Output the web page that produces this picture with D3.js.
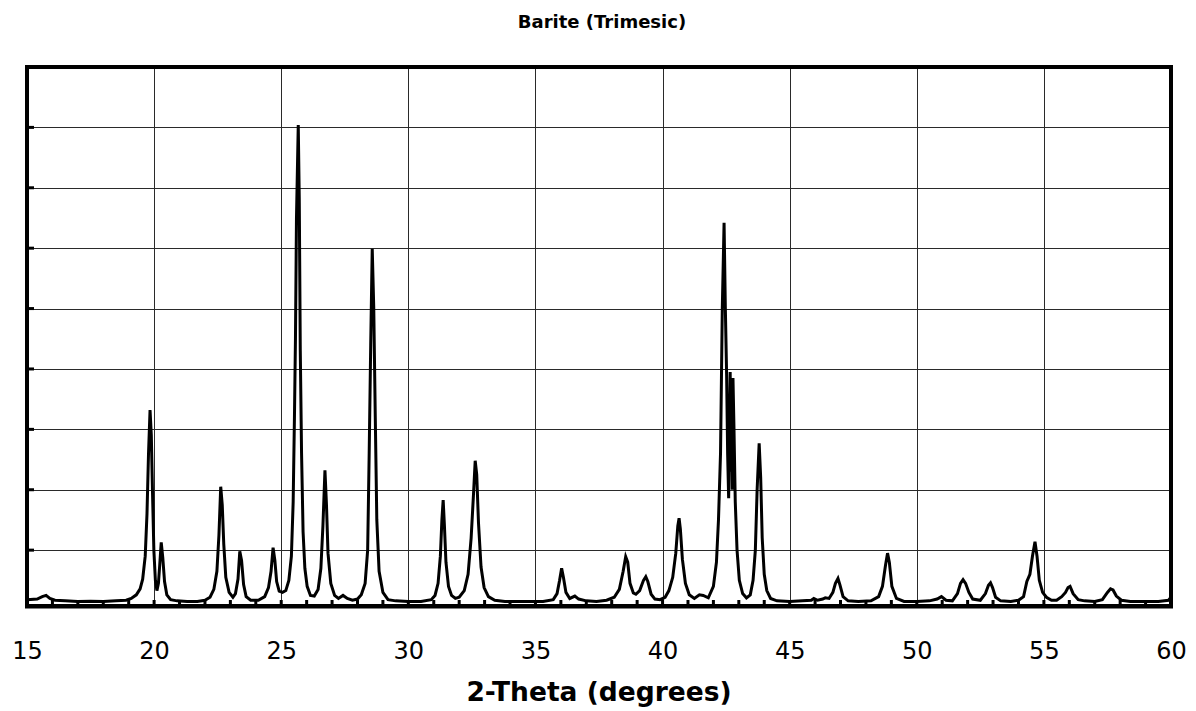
<!DOCTYPE html>
<html>
<head>
<meta charset="utf-8">
<script src="https://cdn.jsdelivr.net/npm/d3@7"></script>
<style>
  html, body { margin: 0; padding: 0; background: #fff; }
  svg { display: block; }
</style>
</head>
<body>
<svg id="chart" width="1196" height="711"></svg>
<script>
// ---- Data (2-theta in degrees, intensity in counts) ----
const scan15to30 = [
  [15.0,180],[15.4,190],[15.6,230],[15.75,250],[15.9,200],[16.1,170],[16.5,160],[17.0,150],[17.5,155],
  [18.0,150],[18.5,160],[18.9,170],[19.1,200],[19.3,260],[19.45,360],[19.55,520],[19.65,900],[19.72,1600],
  [19.78,2600],[19.84,3320],[19.89,2900],[19.94,1900],[19.99,1000],[20.05,500],[20.11,330],[20.17,450],
  [20.22,750],[20.28,1130],[20.34,880],[20.41,480],[20.5,260],[20.65,180],[20.9,160],[21.3,150],[21.7,150],
  [22.0,170],[22.2,220],[22.35,350],[22.47,650],[22.55,1250],[22.62,2050],[22.68,1750],[22.74,1100],
  [22.82,550],[22.95,300],[23.1,220],[23.2,280],[23.3,520],[23.37,980],[23.44,830],[23.52,430],[23.62,230],
  [23.8,170],[24.1,170],[24.35,230],[24.5,380],[24.6,650],[24.68,1040],[24.75,830],[24.82,480],[24.92,320],
  [25.05,300],[25.18,330],[25.3,500],[25.4,900],[25.47,1800],[25.52,3200],[25.56,4500],[25.6,6500],
  [25.67,8040],[25.71,6800],[25.75,4300],[25.8,2600],[25.86,1300],[25.93,700],[26.02,400],[26.15,250],
  [26.3,240],[26.45,350],[26.56,700],[26.64,1400],[26.72,2320],[26.78,1750],[26.84,950],[26.95,450],
  [27.1,250],[27.25,200],[27.43,250],[27.6,200],[27.8,170],[28.0,190],[28.15,260],[28.3,450],[28.4,1000],
  [28.46,2600],[28.52,4400],[28.58,5990],[28.64,5000],[28.7,3200],[28.76,1500],[28.85,650],[29.0,300],
  [29.2,180],[29.5,160],[30.0,150]
];
const scan30to45 = [
  [30.5,150],[30.9,180],[31.05,250],[31.17,450],[31.26,900],[31.32,1500],[31.37,1830],[31.42,1400],
  [31.48,800],[31.58,400],[31.7,250],[31.85,200],[32.0,220],[32.2,330],[32.35,600],[32.47,1200],
  [32.56,1900],[32.63,2480],[32.69,2250],[32.76,1450],[32.86,720],[32.98,380],[33.15,230],[33.4,170],
  [33.8,150],[34.3,150],[34.8,150],[35.3,150],[35.7,180],[35.85,280],[35.95,500],[36.03,700],[36.1,550],
  [36.2,300],[36.35,200],[36.55,240],[36.7,190],[37.0,160],[37.4,150],[37.8,170],[38.1,220],[38.3,350],
  [38.45,650],[38.55,890],[38.63,800],[38.72,450],[38.85,290],[38.95,270],[39.1,330],[39.25,500],
  [39.34,560],[39.42,480],[39.55,270],[39.7,190],[39.9,180],[40.1,220],[40.25,330],[40.4,550],[40.52,950],
  [40.6,1400],[40.65,1530],[40.7,1350],[40.78,850],[40.9,450],[41.05,260],[41.25,200],[41.45,260],
  [41.6,250],[41.8,210],[42.0,400],[42.12,800],[42.2,1500],[42.28,2600],[42.35,5000],[42.42,6420],
  [42.47,5000],[42.52,3900],[42.56,2600],[42.6,1860],[42.63,3000],[42.66,3950],[42.69,2300],[42.71,3700],
  [42.74,2000],[42.77,3850],[42.81,3000],[42.86,1800],[42.93,1000],[43.02,500],[43.15,280],[43.3,210],
  [43.45,260],[43.56,500],[43.65,1000],[43.72,2000],[43.8,2770],[43.86,2200],[43.92,1200],[44.0,600],
  [44.1,330],[44.25,200],[44.5,160],[45.0,150]
];
const scan45to60 = [
  [45.5,160],[45.85,170],[45.95,200],[46.1,170],[46.3,190],[46.4,210],[46.55,200],[46.7,300],[46.8,450],
  [46.9,530],[46.98,420],[47.1,230],[47.3,160],[47.7,150],[48.2,160],[48.5,230],[48.65,400],[48.77,750],
  [48.85,950],[48.92,800],[49.02,400],[49.2,200],[49.5,150],[50.0,150],[50.5,160],[50.8,190],[50.97,230],
  [51.15,170],[51.4,160],[51.6,280],[51.72,450],[51.82,510],[51.92,450],[52.05,300],[52.2,190],[52.5,170],
  [52.7,280],[52.82,420],[52.9,460],[52.98,380],[53.1,220],[53.3,160],[53.7,150],[54.0,170],[54.2,230],
  [54.33,480],[54.45,600],[54.55,900],[54.65,1140],[54.73,900],[54.82,500],[54.95,300],[55.1,220],
  [55.3,170],[55.5,170],[55.7,230],[55.85,300],[55.95,380],[56.03,400],[56.15,280],[56.35,180],[56.6,160],
  [57.0,150],[57.3,180],[57.5,300],[57.62,360],[57.72,340],[57.85,240],[58.05,170],[58.4,150],[59.0,150],
  [59.5,150],[59.9,170],[60.0,220]
];
const xTickValues = [15, 20, 25, 30, 35, 40, 45, 50, 55, 60];
const yGridValues = [1000, 2000, 3000, 4000, 5000, 6000, 7000, 8000];
const chartTitle = "Barite (Trimesic)";
const xAxisTitle = "2-Theta (degrees)";

// ---- Layout ----
const svg = d3.select("#chart");
const plotLeft = 27, plotRight = 1171, plotTop = 67, plotBottom = 606;

const pattern = scan15to30.concat(scan30to45, scan45to60);

const x = d3.scaleLinear().domain([15, 60]).range([plotLeft, plotRight]);
const y = d3.scaleLinear().domain([75, 9000]).range([plotBottom, plotTop]);

svg.append("rect").attr("width", 1196).attr("height", 711).attr("fill", "#fff");

// Gridlines
const grid = svg.append("g");
grid.selectAll("line.v").data(xTickValues.slice(1, -1)).join("line")
  .attr("x1", d => Math.round(x(d)) + 0.5).attr("x2", d => Math.round(x(d)) + 0.5)
  .attr("y1", plotTop).attr("y2", plotBottom)
  .attr("stroke", "#2a2a2a").attr("stroke-width", 1);
grid.selectAll("line.h").data(yGridValues).join("line")
  .attr("y1", d => Math.round(y(d)) + 0.5).attr("y2", d => Math.round(y(d)) + 0.5)
  .attr("x1", plotLeft).attr("x2", plotRight)
  .attr("stroke", "#2a2a2a").attr("stroke-width", 1);

// Minor ticks on bottom axis (every degree) and left axis ticks
const xMinor = d3.range(16, 60, 1);
svg.append("g").selectAll("line").data(xMinor).join("line")
  .attr("x1", d => x(d)).attr("x2", d => x(d))
  .attr("y1", plotBottom).attr("y2", plotBottom - 6)
  .attr("stroke", "#000").attr("stroke-width", 3);
svg.append("g").selectAll("line").data(yGridValues).join("line")
  .attr("x1", plotLeft).attr("x2", plotLeft + 7)
  .attr("y1", d => y(d)).attr("y2", d => y(d))
  .attr("stroke", "#000").attr("stroke-width", 3);

// Pattern line
const line = d3.line().x(d => x(d[0])).y(d => y(d[1]));
svg.append("path").datum(pattern)
  .attr("d", line)
  .attr("fill", "none")
  .attr("stroke", "#000")
  .attr("stroke-width", 3)
  .attr("stroke-linejoin", "miter");

// Frame
svg.append("rect")
  .attr("x", plotLeft).attr("y", plotTop)
  .attr("width", plotRight - plotLeft).attr("height", plotBottom - plotTop)
  .attr("fill", "none").attr("stroke", "#000").attr("stroke-width", 4);
svg.append("line").attr("x1", plotLeft - 2).attr("x2", plotRight + 2)
  .attr("y1", plotBottom + 1).attr("y2", plotBottom + 1)
  .attr("stroke", "#000").attr("stroke-width", 3);

// X axis labels (via d3 axis, domain/ticks hidden)
const xAxis = d3.axisBottom(x).tickValues(xTickValues).tickSize(0).tickPadding(0).tickFormat(d3.format("d"));
const gx = svg.append("g").attr("transform", "translate(0, 642)").call(xAxis);
gx.select(".domain").remove();
gx.selectAll("text")
  .attr("font-family", "'DejaVu Sans', Verdana, sans-serif")
  .attr("font-size", 24)
  .attr("fill", "#000")
  .attr("dy", "0.71em");

// Titles
svg.append("text").attr("x", 602).attr("y", 28)
  .attr("text-anchor", "middle")
  .attr("font-family", "'DejaVu Sans', Verdana, sans-serif")
  .attr("font-weight", "bold").attr("font-size", 18)
  .text(chartTitle);
svg.append("text").attr("x", 599).attr("y", 701)
  .attr("text-anchor", "middle")
  .attr("font-family", "'DejaVu Sans', Verdana, sans-serif")
  .attr("font-weight", "bold").attr("font-size", 26.5)
  .text(xAxisTitle);
</script>
</body>
</html>
